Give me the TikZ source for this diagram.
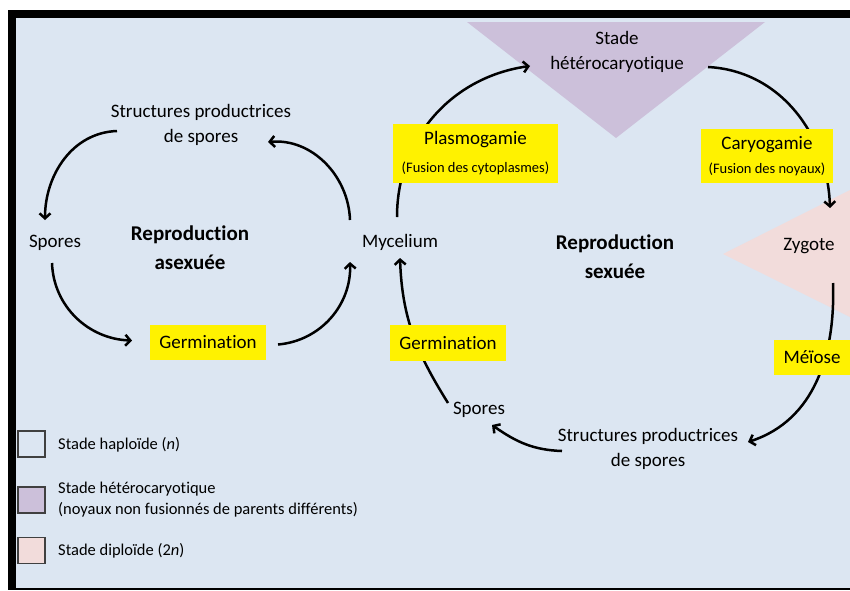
\documentclass[tikz,border=0pt]{standalone}
\usepackage{fontspec}
\setmainfont{Carlito}[Ligatures=NoCommon]
\usetikzlibrary{arrows.meta,calc}
\definecolor{bgblue}{HTML}{DCE6F2}
\definecolor{hetpurple}{HTML}{CCC0DA}
\definecolor{dippink}{HTML}{F2DCDB}
\pgfdeclarelayer{back}
\pgfdeclarelayer{mid}
\pgfsetlayers{back,mid,main}
\begin{document}
\begin{tikzpicture}[x=1pt,y=1pt,
  txt/.style={inner sep=0pt, align=center, font=\fontsize{19}{25}\selectfont},
  boldtxt/.style={inner sep=0pt, align=center, font=\fontsize{21}{29}\selectfont\bfseries},
  ybox/.style={fill=yellow, inner sep=0pt, align=center, font=\fontsize{19}{24}\selectfont},
  arr/.style={line width=2.5pt, -{Straight Barb[length=5pt,width=11pt]}},
  legbox/.style={draw=black!75, line width=1.2pt, minimum width=27pt, minimum height=26pt, inner sep=0pt},
  legtxt/.style={inner sep=0pt, anchor=west, align=left, font=\fontsize{16.5}{21}\selectfont}]

\useasboundingbox (0,0) rectangle (850,-590);
\begin{pgfonlayer}{back}
  \fill[white] (0,0) rectangle (850,-590);
  \fill[black] (8,-10) rectangle (850,-590);
  \fill[bgblue] (16,-18) rectangle (850,-587.5);
  \fill[hetpurple] (467,-22) -- (765,-22) -- (616,-138) -- cycle;
  \fill[dippink] (723,-254) -- (850,-190) -- (850,-317) -- cycle;
\end{pgfonlayer}

% asexual cycle
\node[txt] (strA) at (201,-125) {Structures productrices\\de spores};
\node[txt] (sporA) at (55,-243) {Spores};
\node[boldtxt] (reproA) at (190,-248) {Reproduction\\asexuée};
\node[ybox, minimum width=116pt, minimum height=35pt] (germA) at (208,-342.5) {Germination};
\node[txt] (myc) at (400,-242) {Mycelium};

% sexual cycle
\node[ybox, font=\fontsize{19}{28}\selectfont, minimum width=165pt, minimum height=59pt] (plasmo) at (475.5,-153.5) {Plasmogamie\\{\fontsize{14.5}{17}\selectfont (Fusion des cytoplasmes)}};
\node[txt] (hetero) at (617,-52) {Stade\\hétérocaryotique};
\node[ybox, minimum width=132pt, minimum height=54pt] (caryo) at (767,-156) {Caryogamie\\{\fontsize{14.5}{17}\selectfont (Fusion des noyaux)}};
\node[txt] (zyg) at (809,-246) {Zygote};
\node[ybox, minimum width=76pt, minimum height=35pt] (meiose) at (812,-357.5) {Méïose};
\node[boldtxt] (reproS) at (615,-257) {Reproduction\\sexuée};
\node[ybox, minimum width=116pt, minimum height=36pt] (germS) at (448,-343) {Germination};
\node[txt] (sporS) at (479,-410) {Spores};
\node[txt] (strS) at (648,-449) {Structures productrices\\de spores};

% legend
\node[legbox, fill=bgblue] (lg1) at (31.5,-444) {};
\node[legbox, fill=hetpurple] (lg2) at (31.5,-500) {};
\node[legbox, fill=dippink] (lg3) at (31.5,-550.5) {};
\node[legtxt] (lt1) at (58,-445) {Stade haploïde (\textit{n})};
\node[legtxt] (lt2) at (58,-499.5) {Stade hétérocaryotique\\(noyaux non fusionnés de parents différents)};
\node[legtxt] (lt3) at (58,-551) {Stade diploïde (2\textit{n})};

\begin{pgfonlayer}{mid}
  % asexual
  \draw[arr] ($(strA)+(-84,-6)$) to[out=182,in=90] ($(sporA)+(-10,23)$);
  \draw[arr] ($(sporA)+(-3,-20)$) to[out=-88,in=178] ($(germA)+(-76,2)$);
  \draw[arr] ($(germA)+(70,-2)$) to[out=5,in=-88] ($(myc)+(-50,-20)$);
  \draw[arr] ($(myc)+(-50,22)$) to[out=92,in=5] ($(strA)+(67,-17)$);
  % sexual
  \draw[arr] ($(myc)+(-3,25)$) to[out=90,in=188] ($(hetero)+(-87,-14)$);
  \draw[arr] ($(hetero)+(91,-15)$) to[out=-3,in=92] ($(zyg)+(21,38)$);
  \draw[arr] ($(zyg)+(24,-37)$) to[out=-88,in=18] ($(strS)+(100,7)$);
  \draw[arr] ($(strS)+(-86,-2)$) to[out=178,in=-35] ($(sporS)+(13,-15)$);
  \draw[arr] ($(sporS)+(-31,7)$) to[out=122,in=-88] ($(myc)+(0,-16)$);
\end{pgfonlayer}
\end{tikzpicture}
\end{document}
